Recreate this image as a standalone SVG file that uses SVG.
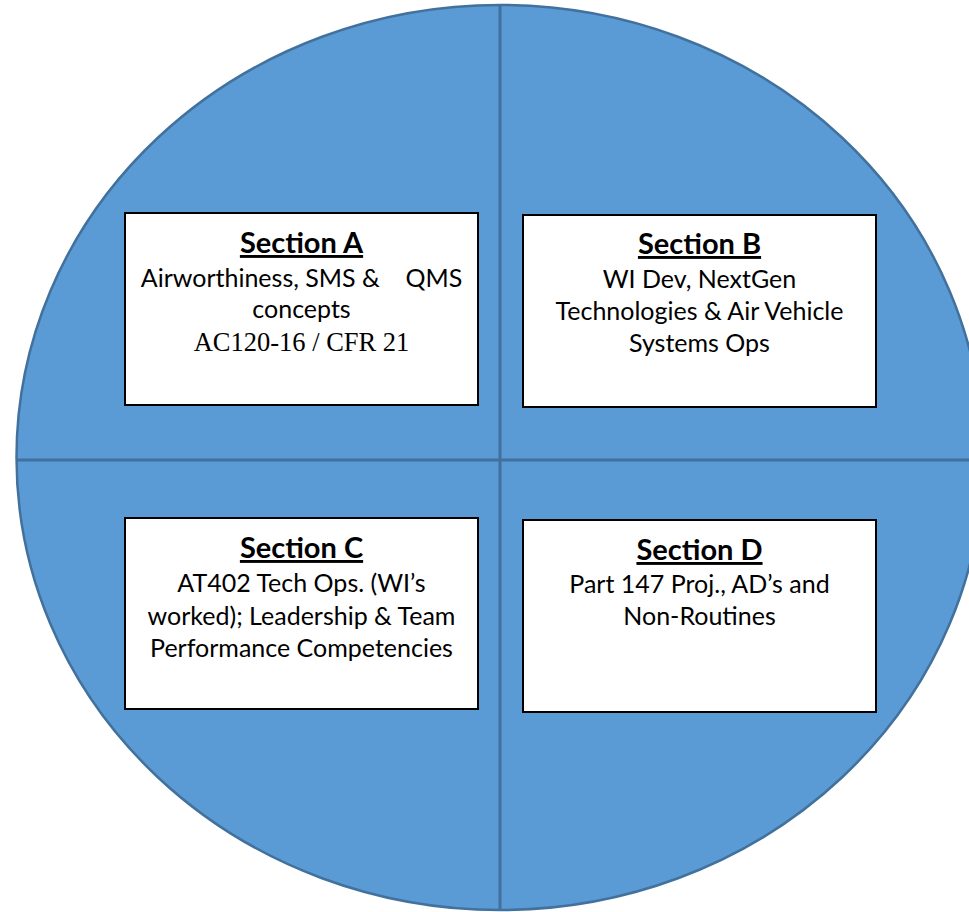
<svg xmlns="http://www.w3.org/2000/svg" width="969" height="912" viewBox="0 0 969 912">
  <style>
    .disc { fill: #5B9BD5; stroke: #41719C; stroke-width: 2.5; }
    .divider { stroke: #41719C; stroke-width: 3; fill: none; }
    .box { fill: #FFFFFF; stroke: #000000; stroke-width: 2; }
    .head { font-family: Lato, "Open Sans", "Liberation Sans", sans-serif; font-weight: bold; font-size: 29px; fill: #000; text-anchor: middle; text-decoration: underline; }
    .body { font-family: Lato, "Open Sans", "Liberation Sans", sans-serif; font-size: 25px; fill: #000; text-anchor: middle; }
    .serif { font-family: "Liberation Serif", "Times New Roman", serif; font-size: 26.5px; fill: #000; text-anchor: middle; }
  </style>
  <defs>
    <clipPath id="discClip">
      <ellipse cx="500" cy="457.5" rx="483.5" ry="452.5"/>
    </clipPath>
  </defs>

  <!-- background disc -->
  <ellipse class="disc" cx="500" cy="457.5" rx="483.5" ry="452.5"/>

  <!-- quadrant dividers -->
  <g id="connectors" clip-path="url(#discClip)">
    <line class="divider" x1="500" y1="0" x2="500" y2="912"/>
    <line class="divider" x1="0" y1="460" x2="990" y2="460"/>
  </g>

  <g id="section-a">
    <rect class="box" x="125" y="213" width="353" height="192"/>
    <text class="head" x="301.5" y="253">Section A</text>
    <text class="body" x="301.5" y="287" xml:space="preserve">Airworthiness, SMS &amp;    QMS</text>
    <text class="body" x="301.5" y="318">concepts</text>
    <text class="serif" x="301.5" y="351">AC120-16 / CFR 21</text>
  </g>

  <g id="section-b">
    <rect class="box" x="523" y="215" width="353" height="192"/>
    <text class="head" x="699.5" y="254">Section B</text>
    <text class="body" x="699.5" y="288">WI Dev, NextGen</text>
    <text class="body" x="699.5" y="320">Technologies &amp; Air Vehicle</text>
    <text class="body" x="699.5" y="352">Systems Ops</text>
  </g>

  <g id="section-c">
    <rect class="box" x="125" y="518" width="353" height="191"/>
    <text class="head" x="301.5" y="558">Section C</text>
    <text class="body" x="301.5" y="592">AT402 Tech Ops. (WI’s</text>
    <text class="body" x="301.5" y="625">worked); Leadership &amp; Team</text>
    <text class="body" x="301.5" y="657">Performance Competencies</text>
  </g>

  <g id="section-d">
    <rect class="box" x="523" y="520" width="353" height="192"/>
    <text class="head" x="699.5" y="560">Section D</text>
    <text class="body" x="699.5" y="593">Part 147 Proj., AD’s and</text>
    <text class="body" x="699.5" y="625">Non-Routines</text>
  </g>
</svg>
